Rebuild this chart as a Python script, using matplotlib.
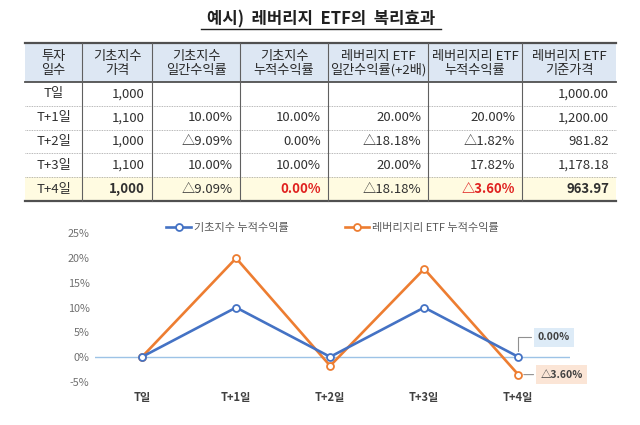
import numpy as np
import matplotlib
matplotlib.use("Agg")
import matplotlib.pyplot as plt

plt.rcParams['font.family'] = ['Noto Sans CJK KR', 'DejaVu Sans']

# ---- data ----
title = "예시)  레버리지  ETF의  복리효과"
headers = ["투자\n일수", "기초지수\n가격", "기초지수\n일간수익률", "기초지수\n누적수익률",
           "레버리지 ETF\n일간수익률(+2배)", "레버리지리 ETF\n누적수익률", "레버리지 ETF\n기준가격"]
days = ["T일", "T+1일", "T+2일", "T+3일", "T+4일"]
index_price = [1000, 1100, 1000, 1100, 1000]
index_daily = [None, 10.00, -9.09, 10.00, -9.09]
index_cum = [None, 10.00, 0.00, 10.00, 0.00]
lev_daily = [None, 20.00, -18.18, 20.00, -18.18]
lev_cum = [None, 20.00, -1.82, 17.82, -3.60]
lev_nav = [1000.00, 1200.00, 981.82, 1178.18, 963.97]

legend_labels = ["기초지수 누적수익률", "레버리지리 ETF 누적수익률"]
yticks = [-5, 0, 5, 10, 15, 20, 25]

BLUE = "#4472C4"
ORANGE = "#ED7D31"
RED = "#E0201E"


def pct(v):
    if v is None:
        return ""
    if v < 0:
        return "△{:.2f}%".format(-v)
    return "{:.2f}%".format(v)


fig = plt.figure(figsize=(6.4, 4.25), dpi=100)

# ---- table drawn in pixel coords ----
tab = fig.add_axes([0, 0, 1, 1])
tab.set_xlim(0, 640)
tab.set_ylim(425, 0)
tab.axis('off')

tab.text(321, 19, title, ha='center', va='center', fontsize=12, fontweight='bold', color='#202020')
tab.plot([201, 441], [29, 29], color='#202020', lw=1.0)

col_edges = [25, 82, 152, 240, 328, 428, 522, 616]
head_top, head_bot = 43, 82
row_h = (201 - head_bot) / len(days)

# backgrounds
tab.fill_between([col_edges[0], col_edges[-1]], head_top, head_bot, color='#DDE7F3', lw=0)
last_top = head_bot + row_h * (len(days) - 1)
tab.fill_between([col_edges[0], col_edges[-1]], last_top, 201, color='#FFFBE1', lw=0)

# header text
for i, h in enumerate(headers):
    cx = (col_edges[i] + col_edges[i + 1]) / 2
    tab.text(cx, (head_top + head_bot) / 2 + 1, h, ha='center', va='center',
             fontsize=9.5, color='#282828', linespacing=1.05)

# rows
for r in range(len(days)):
    cy = head_bot + row_h * (r + 0.5)
    last = r == len(days) - 1
    cells = [days[r], "{:,}".format(index_price[r]), pct(index_daily[r]), pct(index_cum[r]),
             pct(lev_daily[r]), pct(lev_cum[r]), "{:,.2f}".format(lev_nav[r])]
    for c, txt in enumerate(cells):
        color = '#303030'
        weight = 'normal'
        if last and c in (1, 6):
            weight = 'bold'
        if last and c in (3, 5):
            weight = 'bold'
            color = RED
        if c == 0:
            tab.text((col_edges[0] + col_edges[1]) / 2, cy, txt, ha='center', va='center',
                     fontsize=9.5, color=color)
        else:
            tab.text(col_edges[c + 1] - 7, cy, txt, ha='right', va='center',
                     fontsize=9.5, color=color, fontweight=weight)
    if r < len(days) - 1:
        yl = head_bot + row_h * (r + 1)
        tab.plot([col_edges[0], col_edges[-1]], [yl, yl], color='#A0A0A0', lw=0.6, ls=(0, (1, 1)))

# borders
tab.plot([col_edges[0], col_edges[-1]], [head_top, head_top], color='#505050', lw=1.6)
tab.plot([col_edges[0], col_edges[-1]], [head_bot, head_bot], color='#505050', lw=1.3)
tab.plot([col_edges[0], col_edges[-1]], [201, 201], color='#505050', lw=1.6)
for x in col_edges[1:-1]:
    tab.plot([x, x], [head_top, 201], color='#606060', lw=0.8)

# ---- line chart ----
ax = fig.add_axes([95 / 640, 1 - 383 / 425, 475 / 640, (383 - 232) / 425])
x = np.arange(len(days))
base_series = [v if v is not None else 0 for v in index_cum]
lev_series = [v if v is not None else 0 for v in lev_cum]

ax.axhline(0, color='#9DC3E6', lw=1.0, zorder=1)
ax.plot(x, base_series, color=BLUE, lw=1.9, marker='o', ms=5, mfc='white', mec=BLUE,
        mew=1.3, label=legend_labels[0], zorder=3)
ax.plot(x, lev_series, color=ORANGE, lw=1.9, marker='o', ms=5, mfc='white', mec=ORANGE,
        mew=1.3, label=legend_labels[1], zorder=2)

ax.set_xlim(-0.5, 4.55)
ax.set_ylim(-5.3, 25.3)
ax.set_yticks(yticks)
ax.set_yticklabels(["{}%".format(t) for t in yticks], fontsize=7.8, color='#707070')
ax.set_xticks(x)
ax.set_xticklabels(days, fontsize=8, fontweight='bold', color='#404040')
ax.tick_params(length=0, pad=4)
ax.tick_params(axis='x', pad=6)
for s in ax.spines.values():
    s.set_visible(False)

ax.annotate(pct(base_series[-1]), xy=(x[-1], base_series[-1]), xytext=(14, 14),
            textcoords='offset points', fontsize=7.5, fontweight='bold', color='#404040',
            va='center', ha='left',
            bbox=dict(boxstyle='square,pad=0.4', fc='#DDEBF7', ec='none'),
            arrowprops=dict(arrowstyle='-', color='#909090', lw=0.8,
                            connectionstyle='angle,angleA=0,angleB=90,rad=0', shrinkA=2, shrinkB=4))
ax.annotate(pct(lev_series[-1]), xy=(x[-1], lev_series[-1]), xytext=(16, 0),
            textcoords='offset points', fontsize=7.5, fontweight='bold', color='#404040',
            va='center', ha='left',
            bbox=dict(boxstyle='square,pad=0.4', fc='#FBE5D6', ec='none'),
            arrowprops=dict(arrowstyle='-', color='#909090', lw=0.8, shrinkA=2, shrinkB=4))

fig.legend(loc='center', bbox_to_anchor=(0.52, 1 - 228 / 425), ncol=2, frameon=False,
           fontsize=8, labelcolor='#595959', handlelength=2.2, columnspacing=5,
           handletextpad=0.3)

fig.savefig("out.png", dpi=100)
